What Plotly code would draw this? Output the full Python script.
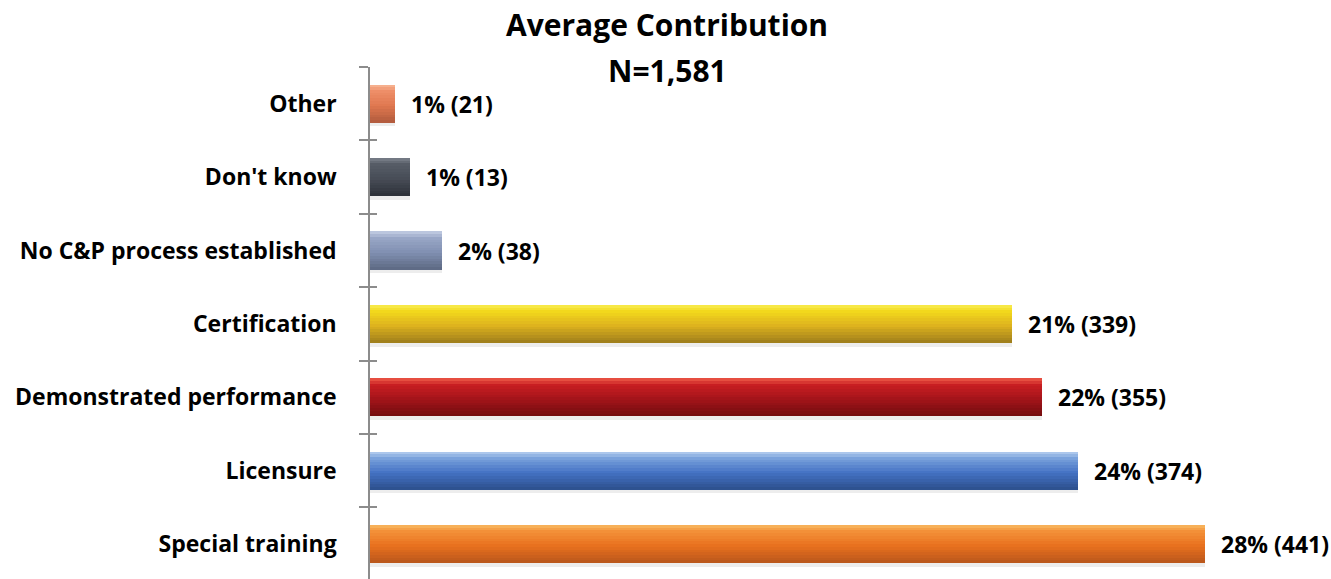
import plotly.graph_objects as go

# ---- data (bottom to top) ----
categories = ["Special training", "Licensure", "Demonstrated performance",
              "Certification", "No C&P process established", "Don't know", "Other"]
bar_counts = [441, 374, 355, 339, 38, 21, 13]          # bar lengths as drawn
label_texts = ["28% (441)", "24% (374)", "22% (355)", "21% (339)",
               "2% (38)", "1% (13)", "1% (21)"]
title_line1 = "Average Contribution"
title_line2 = "N=1,581"

# ---- style: colour stops top -> bottom per category ----
colour_stops = [
    ["#F8B860", "#F39038", "#E8701E", "#B8561C"],   # Special training
    ["#B8D0F0", "#7AA2DC", "#4472C4", "#2C4F8C"],   # Licensure
    ["#EE5A48", "#C81E22", "#A3141A", "#720C0E"],   # Demonstrated performance
    ["#F8EC50", "#F2D81C", "#DDB21E", "#9C7C1C"],   # Certification
    ["#C4CEE4", "#98A6C6", "#8190B2", "#5C6882"],   # No C&P
    ["#7A808A", "#565C66", "#474C56", "#2C3038"],   # Don't know
    ["#F8B898", "#EE8E68", "#E07850", "#B05A3C"],   # Other
]
stop_pos = [0.0, 0.18, 0.55, 1.0]


def hex2rgb(h):
    h = h.lstrip("#")
    return tuple(int(h[i:i + 2], 16) for i in (0, 2, 4))


def interp(stops, t):
    for j in range(len(stop_pos) - 1):
        if stop_pos[j] <= t <= stop_pos[j + 1]:
            f = (t - stop_pos[j]) / (stop_pos[j + 1] - stop_pos[j])
            a, b = hex2rgb(stops[j]), hex2rgb(stops[j + 1])
            c = [round(a[k] + (b[k] - a[k]) * f) for k in range(3)]
            return "rgb(%d,%d,%d)" % tuple(c)
    return stops[-1]


BAR_W = 0.52
N_BANDS = 14
band_w = BAR_W / N_BANDS

fig = go.Figure()

# soft shadow under each bar
fig.add_trace(go.Bar(
    x=bar_counts, y=categories, orientation="h",
    width=0.05, offset=-BAR_W / 2 - 0.05,
    marker=dict(color="rgba(0,0,0,0.07)", line=dict(width=0)),
    hoverinfo="skip", showlegend=False))

for k in range(N_BANDS):
    t = (k + 0.5) / N_BANDS
    cols = [interp(s, t) for s in colour_stops]
    fig.add_trace(go.Bar(
        x=bar_counts, y=categories, orientation="h",
        width=band_w * 1.02, offset=BAR_W / 2 - (k + 1) * band_w,
        marker=dict(color=cols, line=dict(width=0)),
        hoverinfo="skip", showlegend=False))

# helper trace for the inner half of the crossing ticks
fig.add_trace(go.Scatter(
    x=[0] * len(categories), y=categories, xaxis="x", yaxis="y2",
    mode="markers", marker=dict(opacity=0), hoverinfo="skip", showlegend=False))

FONT = "'Open Sans', sans-serif"
L, T, W, H = 370, 67, 1331, 579
plot_w, plot_h = W - L, H - T

for v, c, txt in zip(bar_counts, categories, label_texts):
    fig.add_annotation(x=v, y=c, xref="x", yref="y", text=txt,
                       xanchor="left", yanchor="middle", xshift=14,
                       showarrow=False,
                       font=dict(family=FONT, size=23, color="black", weight="bold"))

title_cx = (667 - L) / plot_w
for txt, py in [(title_line1, 24), (title_line2, 70)]:
    fig.add_annotation(x=title_cx, xref="paper", xanchor="center",
                       y=(H - py) / plot_h, yref="paper", yanchor="middle",
                       text=txt, showarrow=False,
                       font=dict(family=FONT, size=30, color="black", weight="bold"))

yr = [-0.475, 6.5]
fig.update_layout(
    width=W, height=H,
    margin=dict(l=L, r=0, t=T, b=0),
    paper_bgcolor="white", plot_bgcolor="white",
    barmode="overlay", bargap=0,
    showlegend=False,
    font=dict(family=FONT, size=23, color="black"),
    xaxis=dict(range=[0, 507.7], visible=False, fixedrange=True),
    yaxis=dict(type="category", categoryorder="array", categoryarray=categories,
               range=yr, showline=True, linecolor="#8c8c8c", linewidth=1.5,
               ticks="outside", tickson="boundaries", ticklen=9,
               tickcolor="#8c8c8c", tickwidth=1.5, showgrid=False,
               ticklabelstandoff=27,
               tickfont=dict(family=FONT, size=23, color="black", weight="bold")),
    yaxis2=dict(type="category", categoryorder="array", categoryarray=categories,
                overlaying="y", side="left", range=yr, showline=False,
                ticks="inside", tickson="boundaries", ticklen=7,
                tickcolor="#8c8c8c", tickwidth=1.5, showticklabels=False,
                showgrid=False),
)

fig.write_html("out.html")
